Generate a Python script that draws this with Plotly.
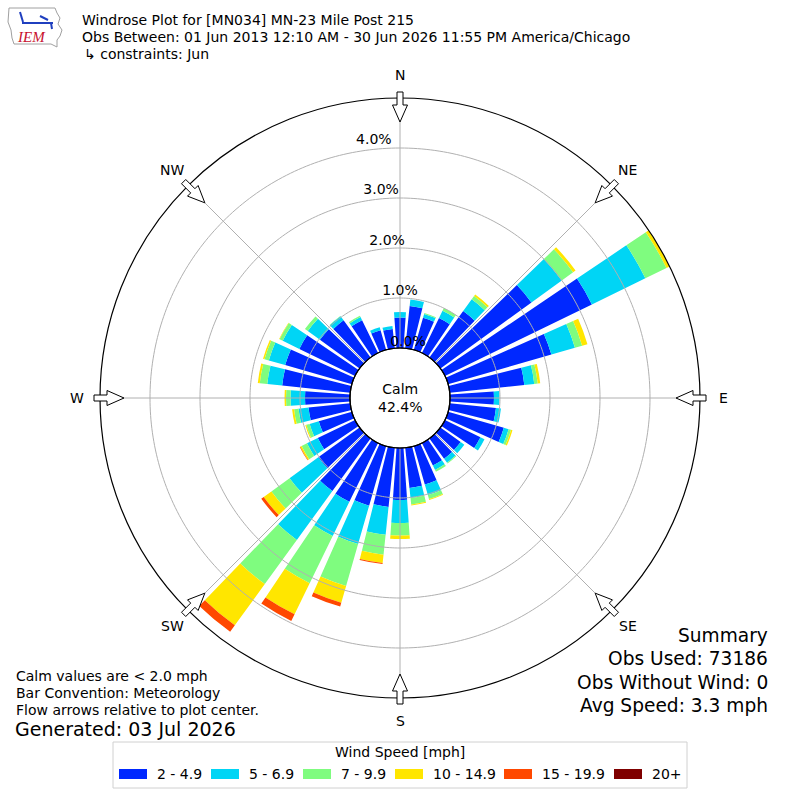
import plotly.graph_objects as go
import numpy as np

# ---------------- data ----------------
directions = [0, 10, 20, 30, 40, 50, 60, 70, 80, 90, 100, 110, 120, 130, 140, 150, 160, 170,
              180, 190, 200, 210, 220, 230, 240, 250, 260, 270, 280, 290, 300, 310, 320, 330, 340, 350]
speed_bins = ["2 - 4.9", "5 - 6.9", "7 - 9.9", "10 - 14.9", "15 - 19.9", "20+"]
bin_colors = ["#0028ff", "#00d5f5", "#7ffc7f", "#ffe600", "#ff4800", "#7f0000"]

# percent of observations per direction for each speed bin
pct_2_5 = [0.61, 0.85, 0.67, 0.78, 1.15, 2.25, 3.27, 2.15, 1.50, 0.88, 0.93, 1.16, 0.79, 0.50, 0.50, 0.50, 0.80, 0.81,
           1.04, 1.19, 1.24, 1.31, 1.30, 1.02, 0.83, 0.69, 0.84, 0.90, 1.37, 1.39, 1.24, 0.98, 0.92, 0.73, 0.41, 0.39]
pct_5_7 = [0.11, 0.13, 0.08, 0.16, 0.29, 0.75, 1.19, 0.49, 0.20, 0.11, 0.10, 0.10, 0.09, 0.09, 0.10, 0.10, 0.22, 0.20,
           0.46, 0.56, 0.80, 0.76, 1.21, 0.71, 0.24, 0.19, 0.20, 0.29, 0.30, 0.34, 0.37, 0.30, 0.10, 0.07, 0.06, 0.06]
pct_7_10 = [0.00, 0.00, 0.02, 0.06, 0.08, 0.28, 0.47, 0.15, 0.07, 0.00, 0.00, 0.05, 0.00, 0.00, 0.02, 0.04, 0.08, 0.13,
            0.25, 0.40, 0.87, 1.05, 1.09, 0.45, 0.12, 0.07, 0.09, 0.09, 0.15, 0.09, 0.07, 0.07, 0.01, 0.03, 0.00, 0.00]
pct_10_15 = [0.00, 0.00, 0.00, 0.00, 0.04, 0.06, 0.07, 0.11, 0.05, 0.00, 0.00, 0.03, 0.00, 0.00, 0.00, 0.00, 0.02, 0.02,
             0.07, 0.17, 0.35, 0.69, 1.02, 0.19, 0.03, 0.02, 0.04, 0.03, 0.04, 0.03, 0.01, 0.00, 0.00, 0.00, 0.00, 0.00]
pct_15_20 = [0.00, 0.00, 0.00, 0.00, 0.00, 0.00, 0.00, 0.00, 0.00, 0.00, 0.00, 0.00, 0.00, 0.00, 0.00, 0.00, 0.00, 0.00,
             0.00, 0.02, 0.08, 0.15, 0.16, 0.06, 0.01, 0.00, 0.00, 0.00, 0.00, 0.00, 0.00, 0.00, 0.00, 0.00, 0.00, 0.00]
pct_20p = [0.00, 0.00, 0.00, 0.00, 0.00, 0.00, 0.00, 0.00, 0.00, 0.00, 0.00, 0.00, 0.00, 0.00, 0.00, 0.00, 0.00, 0.00,
           0.00, 0.00, 0.00, 0.00, 0.00, 0.00, 0.00, 0.00, 0.00, 0.00, 0.00, 0.00, 0.00, 0.00, 0.00, 0.00, 0.00, 0.00]
series = [pct_2_5, pct_5_7, pct_7_10, pct_10_15, pct_15_20, pct_20p]

radial_ticks = [0, 1, 2, 3, 4]
radial_tick_text = ["0.0%", "1.0%", "2.0%", "3.0%", "4.0%"]
compass = ["N", "NE", "E", "SE", "S", "SW", "W", "NW"]
compass_angles = [0, 45, 90, 135, 180, 225, 270, 315]

calm_text = "Calm<br>42.4%"
title_lines = ["Windrose Plot for [MN034] MN-23 Mile Post 215",
               "Obs Between: 01 Jun 2013 12:10 AM - 30 Jun 2026 11:55 PM America/Chicago",
               "\u21b3 constraints: Jun"]
notes = ["Calm values are < 2.0 mph", "Bar Convention: Meteorology", "Flow arrows relative to plot center."]
generated = "Generated: 03 Jul 2026"
summary = ["Summary", "Obs Used: 73186", "Obs Without Wind: 0", "Avg Speed: 3.3 mph"]

FONT = "DejaVu Sans"
W = H = 800
CX, CY, RAD, HOLE_PX = 400.0, 398.0, 300.0, 50.0
RMAX = 5


def px(x, y):
    return x / W, 1 - y / H


fig = go.Figure()

for name, vals, col in zip(speed_bins, series, bin_colors):
    fig.add_trace(go.Barpolar(r=vals, theta=directions, width=8, name=name,
                              marker=dict(color=col, line=dict(width=0)),
                              showlegend=False, hoverinfo="skip"))

# grid above bars
ring_theta = np.arange(0, 361, 1)
for t in radial_ticks[1:]:
    fig.add_trace(go.Scatterpolar(r=[t] * len(ring_theta), theta=ring_theta, mode="lines",
                                  line=dict(color="#b0b0b0", width=1), showlegend=False, hoverinfo="skip"))
for a in compass_angles:
    fig.add_trace(go.Scatterpolar(r=[0, RMAX], theta=[a, a], mode="lines",
                                  line=dict(color="#b0b0b0", width=1), showlegend=False, hoverinfo="skip"))

# radial tick labels
label_theta = [8.1, 0.0, -4.7, -5.2, -5.8]
fig.add_trace(go.Scatterpolar(r=[t + 0.13 + 0.01 * t for t in radial_ticks], theta=label_theta,
                              mode="text", text=radial_tick_text, cliponaxis=False,
                              textfont=dict(family=FONT, size=14, color="black"),
                              showlegend=False, hoverinfo="skip"))

shapes = []
annotations = []

# calm circle
shapes.append(dict(type="circle", xref="paper", yref="paper",
                   x0=(CX - HOLE_PX) / W, x1=(CX + HOLE_PX) / W,
                   y0=1 - (CY + HOLE_PX) / H, y1=1 - (CY - HOLE_PX) / H,
                   line=dict(color="black", width=1.2), fillcolor="rgba(0,0,0,0)"))

# flow arrows and compass labels
for lab, a in zip(compass, compass_angles):
    th = np.radians(a)
    ux, uy = np.sin(th), -np.cos(th)
    vx, vy = np.cos(th), np.sin(th)
    pts = [(306, -3), (293, -3), (293, -7.5), (276, 0), (293, 7.5), (293, 3), (306, 3)]
    path = ""
    for i, (al, s) in enumerate(pts):
        x = CX + al * ux + s * vx
        y = CY + al * uy + s * vy
        xp, yp = px(x, y)
        path += ("M" if i == 0 else "L") + f"{xp:.5f},{yp:.5f} "
    path += "Z"
    shapes.append(dict(type="path", xref="paper", yref="paper", path=path,
                       fillcolor="white", line=dict(color="black", width=1)))
    rl = 323 if a % 90 == 0 else 322
    lx, ly = CX + rl * ux, CY + rl * uy
    xp, yp = px(lx, ly)
    annotations.append(dict(x=xp, y=yp, xref="paper", yref="paper", text=lab, showarrow=False,
                            xanchor="center", yanchor="middle",
                            font=dict(family=FONT, size=14, color="black")))

# calm text
annotations.append(dict(x=CX / W, y=1 - CY / H, xref="paper", yref="paper", text=calm_text,
                        showarrow=False, xanchor="center", yanchor="middle",
                        font=dict(family=FONT, size=14, color="black")))

# titles
for i, (t, y) in enumerate(zip(title_lines, [20, 37, 54])):
    x0 = 80 if i < 2 else 82
    xp, yp = px(x0, y)
    annotations.append(dict(x=xp, y=yp, xref="paper", yref="paper", text=t, showarrow=False,
                            xanchor="left", yanchor="middle",
                            font=dict(family=FONT, size=14, color="black")))

# notes
for t, y in zip(notes, [676, 693, 710]):
    xp, yp = px(14, y)
    annotations.append(dict(x=xp, y=yp, xref="paper", yref="paper", text=t, showarrow=False,
                            xanchor="left", yanchor="middle",
                            font=dict(family=FONT, size=14, color="black")))
xp, yp = px(13, 729)
annotations.append(dict(x=xp, y=yp, xref="paper", yref="paper", text=generated, showarrow=False,
                        xanchor="left", yanchor="middle",
                        font=dict(family=FONT, size=19, color="black")))

# summary
for t, y in zip(summary, [635, 658, 682, 705]):
    xp, yp = px(770, y)
    annotations.append(dict(x=xp, y=yp, xref="paper", yref="paper", text=t, showarrow=False,
                            xanchor="right", yanchor="middle",
                            font=dict(family=FONT, size=18.6, color="black")))

# legend (manual)
bx0, by0, bx1, by1 = px(113, 788) + px(687, 742)
shapes.append(dict(type="rect", xref="paper", yref="paper", x0=bx0, y0=by0, x1=bx1, y1=by1,
                   line=dict(color="#d0d0d0", width=1), fillcolor="white"))
xp, yp = px(400, 752)
annotations.append(dict(x=xp, y=yp, xref="paper", yref="paper", text="Wind Speed [mph]",
                        showarrow=False, xanchor="center", yanchor="middle",
                        font=dict(family=FONT, size=14, color="black")))
rect_x = [119, 211, 303, 395, 504, 614]
for name, col, rx in zip(speed_bins, bin_colors, rect_x):
    x0, y0 = px(rx, 779)
    x1, y1 = px(rx + 28, 769)
    shapes.append(dict(type="rect", xref="paper", yref="paper", x0=x0, y0=y0, x1=x1, y1=y1,
                       line=dict(width=0), fillcolor=col))
    xp, yp = px(rx + 36, 774)
    annotations.append(dict(x=xp, y=yp, xref="paper", yref="paper", text=name, showarrow=False,
                            xanchor="left", yanchor="middle",
                            font=dict(family=FONT, size=14, color="black")))

# logo (approximate)
iowa = [(9, 8), (55, 8), (57, 13), (60, 18), (58, 24), (62, 30), (60, 36), (57, 40), (57, 47),
        (51, 44), (14, 44), (12, 38), (11, 30), (8, 22)]
path = ""
for i, (x, y) in enumerate(iowa):
    xp, yp = px(x, y)
    path += ("M" if i == 0 else "L") + f"{xp:.5f},{yp:.5f} "
path += "Z"
shapes.append(dict(type="path", xref="paper", yref="paper", path=path,
                   line=dict(color="#a0a0a0", width=1), fillcolor="rgba(0,0,0,0)"))
for (xa, ya, xb, yb) in [(22, 23, 53, 23), (20, 12, 23, 22), (40, 16, 48, 20), (51, 23, 52, 29)]:
    p0 = px(xa, ya)
    p1 = px(xb, yb)
    shapes.append(dict(type="line", xref="paper", yref="paper", x0=p0[0], y0=p0[1], x1=p1[0], y1=p1[1],
                       line=dict(color="#1f3fbf", width=2)))
xp, yp = px(31, 37)
annotations.append(dict(x=xp, y=yp, xref="paper", yref="paper", text="<i>IEM</i>", showarrow=False,
                        xanchor="center", yanchor="middle",
                        font=dict(family="Liberation Serif", size=15, color="#c8102e")))

fig.update_layout(
    width=W, height=H, autosize=False,
    margin=dict(l=0, r=0, t=0, b=0),
    paper_bgcolor="white", plot_bgcolor="white",
    polar=dict(
        domain=dict(x=[(CX - RAD) / W, (CX + RAD) / W], y=[1 - (CY + RAD) / H, 1 - (CY - RAD) / H]),
        hole=HOLE_PX / RAD,
        bgcolor="white",
        barmode="stack",
        bargap=0,
        radialaxis=dict(range=[0, RMAX], showgrid=False, showline=False, showticklabels=False, ticks=""),
        angularaxis=dict(rotation=90, direction="clockwise", showgrid=False, showticklabels=False,
                         ticks="", showline=True, linecolor="black", linewidth=1.2),
    ),
    shapes=shapes,
    annotations=annotations,
    showlegend=False,
)

fig.write_html("out.html", config={"displayModeBar": False},
               post_script="document.body.style.margin='0';document.body.style.overflow='hidden';")
